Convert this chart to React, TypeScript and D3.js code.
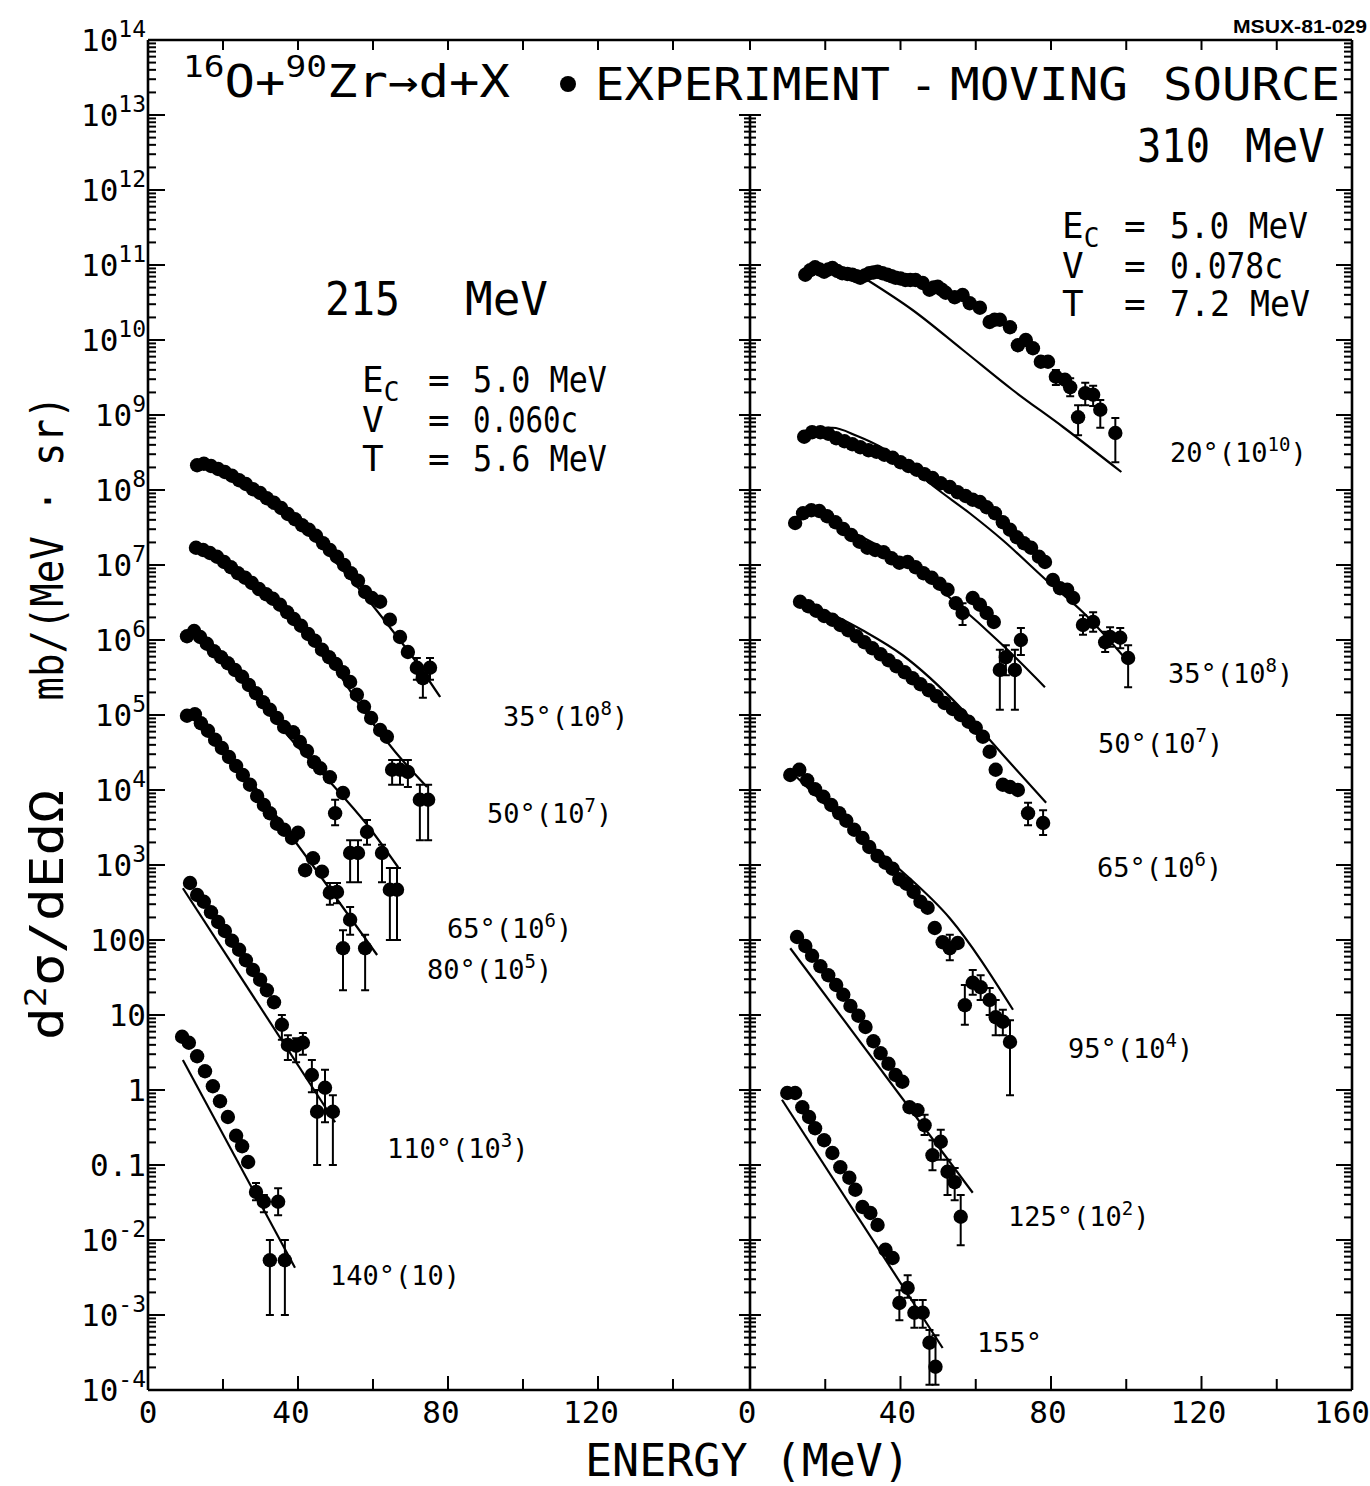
import React from "react";
import * as d3 from "d3";

type P = [number, number];
type EP = [number, number, number, number]; // [E, log10 value, log10 low, log10 high]

// ===== 215 MeV (left panel), values as [E (MeV), log10(d2σ/dEdΩ × factor)] =====
const e215_35: P[] = [[13.1,8.33],[14.9,8.35],[16.8,8.32],[18.7,8.28],[20.5,8.24],[22.4,8.19],[24.3,8.13],[26.1,8.08],[28.0,8.01],[29.9,7.96],[31.7,7.89],[33.6,7.83],[35.5,7.76],[37.3,7.68],[39.2,7.61],[41.1,7.53],[42.9,7.47],[44.8,7.39],[46.7,7.29],[48.5,7.20],[50.4,7.11],[52.3,7.00],[54.1,6.89],[56.0,6.79],[57.9,6.64],[59.7,6.56],[61.9,6.51],[64.5,6.27],[67.2,6.04],[69.3,5.84]];
const err215_35: EP[] = [[71.7,5.63,5.47,5.76],[73.3,5.49,5.23,5.63],[75.2,5.63,5.47,5.76]];
const th215_35: P[] = [[31.7,7.89],[40.5,7.53],[48.5,7.12],[56.5,6.67],[64.5,6.17],[71.2,5.73],[77.9,5.24]];

const e215_50: P[] = [[12.8,7.23],[14.7,7.20],[16.5,7.16],[18.4,7.11],[20.3,7.04],[22.1,6.97],[24.0,6.89],[25.9,6.83],[27.7,6.76],[29.6,6.68],[31.5,6.61],[33.3,6.55],[35.2,6.47],[37.1,6.37],[38.9,6.28],[40.8,6.19],[42.7,6.08],[44.5,5.99],[46.4,5.87],[48.3,5.77],[50.1,5.68],[52.0,5.57],[53.9,5.44],[55.7,5.27],[57.6,5.11],[59.5,4.96],[61.9,4.80],[63.7,4.71]];
const err215_50: EP[] = [[65.1,4.27,4.07,4.40],[67.2,4.27,4.07,4.40],[69.3,4.24,4.04,4.40],[72.5,3.87,3.33,4.07],[74.7,3.87,3.33,4.07]];
const th215_50: P[] = [[40.5,6.24],[48.5,5.73],[57.3,5.07],[65.9,4.51],[74.4,4.04]];

const e215_65: P[] = [[10.4,6.05],[12.3,6.12],[13.9,6.04],[15.7,5.95],[17.6,5.85],[19.5,5.77],[21.3,5.69],[23.2,5.60],[25.1,5.51],[26.9,5.40],[28.8,5.29],[30.7,5.17],[32.5,5.07],[34.4,4.96],[36.3,4.84],[38.7,4.77],[40.5,4.64],[42.4,4.52],[44.3,4.37],[45.9,4.29],[48.5,4.17],[52.0,3.96]];
const err215_65: EP[] = [[49.9,3.69,3.53,3.87],[58.4,3.44,3.27,3.60],[53.9,3.16,2.77,3.33],[56.0,3.16,2.77,3.33],[62.4,3.16,2.77,3.27],[64.5,2.67,2.00,2.96],[66.4,2.67,2.00,2.96]];
const th215_65: P[] = [[28.8,5.24],[37.9,4.69],[48.5,4.11],[57.9,3.57],[66.7,2.97]];

const e215_80: P[] = [[10.4,4.99],[12.5,5.01],[14.1,4.89],[16.0,4.79],[17.9,4.67],[19.7,4.56],[21.6,4.44],[23.5,4.32],[25.3,4.20],[27.2,4.07],[29.1,3.92],[30.9,3.80],[32.5,3.69],[34.4,3.55],[36.3,3.47],[38.4,3.36],[40.0,3.43],[41.9,2.93],[44.0,3.09],[46.4,2.91]];
const err215_80: EP[] = [[48.5,2.63,2.47,2.76],[50.4,2.64,2.49,2.76],[53.9,2.27,2.07,2.44],[52.0,1.89,1.33,2.13],[57.9,1.89,1.33,2.07]];
const th215_80: P[] = [[27.2,4.13],[44.0,2.99],[61.1,1.80]];

const e215_110: P[] = [[11.2,2.76],[13.1,2.60],[14.9,2.51],[16.8,2.37],[18.7,2.24],[20.5,2.12],[22.4,1.99],[24.3,1.87],[26.1,1.73],[28.0,1.60],[29.9,1.47],[31.7,1.33],[33.6,1.17]];
const err215_110: EP[] = [[35.7,0.87,0.67,1.00],[37.3,0.60,0.40,0.73],[39.5,0.59,0.37,0.69],[41.3,0.63,0.47,0.76],[43.7,0.20,-0.03,0.40],[47.2,0.03,-0.43,0.27],[45.1,-0.29,-1.00,0.00],[49.3,-0.29,-1.00,-0.07]];
const th215_110: P[] = [[9.3,2.69],[49.9,-0.43]];

const e215_140: P[] = [[9.1,0.71],[10.9,0.63],[13.1,0.45],[15.2,0.25],[17.3,0.05],[19.2,-0.15],[21.3,-0.36],[23.5,-0.61],[25.1,-0.75],[26.7,-0.96]];
const err215_140: EP[] = [[28.8,-1.36,-1.47,-1.24],[30.9,-1.49,-1.63,-1.40],[34.7,-1.49,-1.67,-1.31],[32.5,-2.27,-3.00,-2.00],[36.5,-2.27,-3.00,-2.00]];
const th215_140: P[] = [[9.3,0.40],[39.2,-2.37]];

// ===== 310 MeV (right panel) =====
const e310_20: P[] = [[14.7,10.87],[16.0,10.93],[17.3,10.97],[18.5,10.94],[19.7,10.91],[20.8,10.94],[21.9,10.96],[23.2,10.92],[24.5,10.89],[25.9,10.88],[27.2,10.87],[28.3,10.85],[29.3,10.83],[30.5,10.86],[31.7,10.89],[32.8,10.90],[33.9,10.91],[35.2,10.89],[36.5,10.87],[37.6,10.85],[38.7,10.83],[40.0,10.82],[41.3,10.80],[42.6,10.80],[44.0,10.80],[45.9,10.76],[47.7,10.67],[48.8,10.70],[49.9,10.71],[51.0,10.67],[52.0,10.63],[54.4,10.57],[56.5,10.60],[58.4,10.49],[61.1,10.43],[63.7,10.24],[65.0,10.27],[66.4,10.27],[69.1,10.17],[71.2,9.93],[73.3,10.00],[75.2,9.89],[77.3,9.71],[79.2,9.71],[83.7,9.47]];
const err310_20: EP[] = [[81.3,9.51,9.40,9.60],[85.1,9.37,9.25,9.49],[89.1,9.29,9.13,9.43],[91.2,9.27,9.12,9.39],[87.2,8.97,8.73,9.13],[93.1,9.07,8.83,9.20],[97.1,8.76,8.37,8.96]];
const th310_20: P[] = [[31.2,10.80],[43.2,10.40],[56.5,9.87],[69.9,9.33],[83.2,8.84],[98.7,8.24]];

const e310_35: P[] = [[14.4,8.71],[16.5,8.77],[18.7,8.77],[20.8,8.75],[22.9,8.69],[25.1,8.65],[27.2,8.61],[29.3,8.57],[31.5,8.53],[33.6,8.51],[35.7,8.47],[37.9,8.43],[40.0,8.37],[42.1,8.32],[44.3,8.27],[46.4,8.21],[48.5,8.16],[50.7,8.09],[53.1,8.04],[55.2,7.97],[57.3,7.92],[59.2,7.87],[61.1,7.84],[62.9,7.77],[65.1,7.69],[67.2,7.57],[69.1,7.47],[70.9,7.37],[72.8,7.29],[74.7,7.23],[76.8,7.11],[78.4,7.04],[80.5,6.80],[82.4,6.69],[84.3,6.67],[85.9,6.56]];
const err310_35: EP[] = [[88.5,6.20,6.07,6.33],[91.2,6.24,6.11,6.37],[94.4,5.97,5.84,6.11],[95.7,6.04,5.91,6.17],[98.4,6.03,5.89,6.16],[100.5,5.76,5.37,5.93]];
const th310_35: P[] = [[15.2,8.83],[21.9,8.83],[28.5,8.72],[35.2,8.56],[42.4,8.31],[49.3,8.03],[58.4,7.69],[67.2,7.33],[78.7,6.80],[88.5,6.37],[100.5,5.71]];

const e310_50: P[] = [[12.0,7.56],[14.1,7.69],[16.3,7.73],[18.4,7.72],[20.5,7.65],[22.7,7.57],[24.8,7.48],[26.9,7.40],[29.1,7.31],[31.2,7.23],[33.3,7.20],[35.5,7.17],[37.6,7.09],[39.7,7.03],[41.9,7.04],[44.0,6.97],[46.1,6.89],[48.3,6.83],[50.4,6.75],[52.5,6.67],[54.7,6.49],[59.2,6.56],[61.1,6.47],[62.9,6.36],[64.8,6.24]];
const err310_50: EP[] = [[56.5,6.36,6.20,6.49],[68.0,5.77,5.53,5.93],[72.0,6.00,5.80,6.16],[66.4,5.60,5.07,5.87],[70.4,5.60,5.07,5.87]];
const th310_50: P[] = [[25.9,7.47],[29.9,7.37],[40.5,7.07],[53.9,6.53],[67.2,5.93],[78.4,5.37]];

const e310_65: P[] = [[13.3,6.51],[15.5,6.45],[17.6,6.39],[19.7,6.32],[21.9,6.27],[24.0,6.20],[26.1,6.13],[28.3,6.05],[30.4,5.97],[32.5,5.89],[34.7,5.81],[36.8,5.73],[38.9,5.65],[41.1,5.57],[43.2,5.49],[45.3,5.41],[47.5,5.33],[49.6,5.25],[51.7,5.16],[53.9,5.08],[56.0,5.00],[58.1,4.91],[60.0,4.83],[61.9,4.71],[63.7,4.51],[65.3,4.27],[67.2,4.07],[69.1,4.04],[71.2,4.00]];
const err310_65: EP[] = [[73.9,3.69,3.53,3.83],[77.9,3.56,3.40,3.73]];
const th310_65: P[] = [[13.9,6.53],[29.9,6.13],[40.5,5.80],[56.5,5.07],[67.2,4.47],[78.7,3.83]];

const e310_95: P[] = [[10.7,4.20],[13.1,4.27],[15.2,4.13],[17.3,4.01],[19.5,3.91],[21.6,3.80],[23.7,3.69],[25.6,3.59],[27.7,3.47],[29.9,3.36],[31.7,3.24],[33.9,3.12],[36.0,3.03],[37.9,2.95],[39.7,2.81],[41.6,2.75],[43.5,2.64],[45.3,2.51],[47.2,2.43],[49.1,2.16],[51.2,1.97],[55.2,1.96]];
const err310_95: EP[] = [[53.1,1.89,1.73,2.07],[57.1,1.13,0.87,1.40],[59.2,1.43,1.27,1.60],[61.3,1.37,1.20,1.53],[63.7,1.20,1.00,1.36],[65.3,0.97,0.73,1.20],[67.2,0.91,0.73,1.07],[69.1,0.64,-0.07,0.93]];
const th310_95: P[] = [[11.2,4.23],[27.2,3.47],[40.5,2.91],[53.1,2.29],[69.9,1.07]];

const e310_125: P[] = [[12.5,2.04],[14.7,1.92],[16.5,1.79],[18.7,1.65],[20.8,1.53],[22.9,1.40],[24.8,1.27],[26.7,1.12],[28.8,0.99],[30.7,0.84],[32.8,0.65],[34.7,0.49],[36.8,0.35],[38.7,0.20],[40.5,0.11],[42.4,-0.23],[44.5,-0.27]];
const err310_125: EP[] = [[46.4,-0.47,-0.60,-0.33],[50.7,-0.69,-0.93,-0.53],[48.5,-0.87,-1.07,-0.67],[52.5,-1.09,-1.40,-0.93],[54.4,-1.23,-1.47,-1.04],[56.0,-1.69,-2.07,-1.40]];
const th310_125: P[] = [[10.7,1.89],[59.2,-1.37]];

const e310_155: P[] = [[9.9,-0.04],[12.0,-0.04],[13.9,-0.23],[15.7,-0.36],[17.3,-0.51],[19.7,-0.67],[21.9,-0.84],[24.0,-1.03],[26.4,-1.17],[28.0,-1.33],[29.9,-1.56],[32.0,-1.64],[33.9,-1.80],[36.0,-2.13],[37.9,-2.24]];
const err310_155: EP[] = [[41.9,-2.64,-2.77,-2.47],[39.7,-2.84,-3.07,-2.67],[43.7,-2.97,-3.17,-2.80],[45.9,-2.97,-3.17,-2.80],[47.7,-3.37,-3.93,-3.20],[49.3,-3.69,-3.93,-3.27]];
const th310_155: P[] = [[8.5,-0.13],[51.2,-3.44]];

// ===== tick labels =====
const xTickValuesLeft = [0, 40, 80, 120];
const xTickValuesRight = [0, 40, 80, 120, 160];
const yTickValues = [1e14,1e13,1e12,1e11,1e10,1e9,1e8,1e7,1e6,1e5,1e4,1e3,100,10,1,0.1,1e-2,1e-3,1e-4];
const yTickBase = ["10","10","10","10","10","10","10","10","10","10","10","10","100","10","1","0.1","10","10","10"];
const yTickExp = ["14","13","12","11","10","9","8","7","6","5","4","3","","","","","-2","-3","-4"];

// curve labels: angle, scale factor exponent
const leftAngles = ["35","50","65","80","110","140"];
const leftExps = ["8","7","6","5","3",""];
const rightAngles = ["20","35","50","65","95","125","155"];
const rightExps = ["10","8","7","6","4","2",""];
const leftFactorPlain = ["","","","","","(10)"];
const rightFactorPlain = ["","","","","","",""];

const leftLabelPos = [[503,726],[487,823],[447,938],[427,979],[387,1158],[330,1285]];
const rightLabelPos = [[1170,462],[1168,683],[1098,753],[1097,877],[1068,1058],[1008,1226],[977,1352]];

const FONT = '"DejaVu Sans Mono", "Liberation Mono", monospace';

export default function App() {
  const W = 1370, H = 1486;
  const top = 40, bottom = 1390;
  const y = d3.scaleLog().domain([1e-4, 1e14]).range([bottom, top]);
  const xL = d3.scaleLinear().domain([0, 160]).range([148, 748]);
  const xR = d3.scaleLinear().domain([0, 160]).range([750, 1352]);
  const Y = (lg: number) => y(Math.pow(10, lg));

  const leftCurves: [P[], EP[], P[]][] = [
    [e215_35, err215_35, th215_35],
    [e215_50, err215_50, th215_50],
    [e215_65, err215_65, th215_65],
    [e215_80, err215_80, th215_80],
    [e215_110, err215_110, th215_110],
    [e215_140, err215_140, th215_140],
  ];
  const rightCurves: [P[], EP[], P[]][] = [
    [e310_20, err310_20, th310_20],
    [e310_35, err310_35, th310_35],
    [e310_50, err310_50, th310_50],
    [e310_65, err310_65, th310_65],
    [e310_95, err310_95, th310_95],
    [e310_125, err310_125, th310_125],
    [e310_155, err310_155, th310_155],
  ];

  const decades = d3.range(-4, 15).map((k) => Math.pow(10, k));
  const minors: number[] = [];
  d3.range(-4, 14).forEach((k) => d3.range(2, 10).forEach((m) => minors.push(m * Math.pow(10, k))));
  const xTicks20 = d3.range(20, 160, 20);
  const midTop = y(1e13);

  const R = 7.2;

  const renderPanel = (x: d3.ScaleLinear<number, number>, curves: [P[], EP[], P[]][], key: string) => {
    const line = d3.line<P>().x((d) => x(d[0])).y((d) => Y(d[1])).curve(d3.curveMonotoneX);
    return (
      <g key={key}>
        {curves.map(([pts, errs, th], ci) => (
          <g key={ci}>
            <path d={line(th) || ""} fill="none" stroke="#000" strokeWidth={2.2} />
            {errs.map((e, i) => (
              <g key={"e" + i} stroke="#000" strokeWidth={2}>
                <line x1={x(e[0])} x2={x(e[0])} y1={Y(e[2])} y2={Y(e[3])} />
                <line x1={x(e[0]) - 4} x2={x(e[0]) + 4} y1={Y(e[2])} y2={Y(e[2])} />
                <line x1={x(e[0]) - 4} x2={x(e[0]) + 4} y1={Y(e[3])} y2={Y(e[3])} />
              </g>
            ))}
            {errs.map((e, i) => (
              <circle key={"ec" + i} cx={x(e[0])} cy={Y(e[1])} r={R} fill="#000" />
            ))}
            {pts.map((p, i) => (
              <circle key={"p" + i} cx={x(p[0])} cy={Y(p[1])} r={R} fill="#000" />
            ))}
          </g>
        ))}
      </g>
    );
  };

  const curveLabel = (angle: string, exp: string, plain: string, pos: number[], k: string) => (
    <text key={k} x={pos[0]} y={pos[1]} fontSize={27} fontFamily={FONT}>
      {angle}°
      {exp !== "" ? (
        <>
          <tspan>(10</tspan>
          <tspan dy={-11} fontSize={19}>{exp}</tspan>
          <tspan dy={11}>)</tspan>
        </>
      ) : (
        plain
      )}
    </text>
  );

  const xL0 = xL.range()[0], xM = xR.range()[0], xRr = xR.range()[1];

  return (
    <svg width={W} height={H} style={{ position: "absolute", left: 0, top: 0, background: "#fff" }} fontFamily={FONT}>
      <rect x={0} y={0} width={W} height={H} fill="#fff" />
      {/* frame */}
      <g stroke="#000" strokeWidth={2.6} fill="none">
        <line x1={xL0} x2={xRr} y1={top} y2={top} />
        <line x1={xL0} x2={xRr} y1={bottom} y2={bottom} />
        <line x1={xL0} x2={xL0} y1={top} y2={bottom} />
        <line x1={xM} x2={xM} y1={midTop} y2={bottom} />
        <line x1={xRr} x2={xRr} y1={top} y2={bottom} />
      </g>
      {/* y ticks */}
      <g stroke="#000" strokeWidth={2}>
        {decades.map((v, i) => (
          <g key={"d" + i}>
            <line x1={xL0} x2={xL0 + 17} y1={y(v)} y2={y(v)} />
            {y(v) >= midTop && <line x1={xM - 11} x2={xM + 11} y1={y(v)} y2={y(v)} />}
            <line x1={xRr - 16} x2={xRr} y1={y(v)} y2={y(v)} />
          </g>
        ))}
        {minors.map((v, i) => (
          <g key={"m" + i}>
            <line x1={xL0} x2={xL0 + 8} y1={y(v)} y2={y(v)} />
            {y(v) >= midTop && <line x1={xM - 6} x2={xM + 6} y1={y(v)} y2={y(v)} />}
            <line x1={xRr - 8} x2={xRr} y1={y(v)} y2={y(v)} />
          </g>
        ))}
        {/* x ticks */}
        {[xL, xR].map((x, pi) =>
          xTicks20.map((t) => (
            <g key={"xt" + pi + "-" + t}>
              <line x1={x(t)} x2={x(t)} y1={bottom} y2={bottom - (t % 40 === 0 ? 14 : 11)} />
              <line x1={x(t)} x2={x(t)} y1={top} y2={top + 10} />
            </g>
          ))
        )}
        <line x1={xM} x2={xM} y1={top} y2={top + 10} />
      </g>
      {/* y tick labels */}
      {yTickValues.map((v, i) => (
        <text key={"yl" + i} x={146} y={y(v) + 11} textAnchor="end" fontSize={31}>
          {yTickBase[i]}
          {yTickExp[i] !== "" && (
            <tspan dy={-14} fontSize={23}>
              {yTickExp[i]}
            </tspan>
          )}
        </text>
      ))}
      {/* x tick labels */}
      {xTickValuesLeft.map((t) => (
        <text key={"xl" + t} x={xL(t) - (t === 0 ? 0 : 7)} y={1423} textAnchor="middle" fontSize={31}>
          {t}
        </text>
      ))}
      {xTickValuesRight.map((t) => (
        <text key={"xr" + t} x={Math.min(xR(t) - 3, 1342)} y={1423} textAnchor="middle" fontSize={31}>
          {t}
        </text>
      ))}
      <text x={585} y={1476} fontSize={44} textLength={325} lengthAdjust="spacingAndGlyphs">
        ENERGY (MeV)
      </text>
      {/* y axis title */}
      <text transform="translate(63,915) rotate(-90)" textAnchor="middle" fontSize={47} textLength={250} lengthAdjust="spacingAndGlyphs">
        d<tspan dy={-17} fontSize={30}>2</tspan>
        <tspan dy={17}>σ/dEdΩ</tspan>
      </text>
      <text transform="translate(63,548) rotate(-90)" textAnchor="middle" fontSize={44} textLength={305} lengthAdjust="spacingAndGlyphs">
        mb/(MeV · sr)
      </text>
      {/* title */}
      <text x={183} y={97} fontSize={44} textLength={327} lengthAdjust="spacingAndGlyphs">
        <tspan fontSize={30} dy={-20}>16</tspan>
        <tspan dy={20}>O+</tspan>
        <tspan fontSize={30} dy={-20}>90</tspan>
        <tspan dy={20}>Zr→d+X</tspan>
      </text>
      <circle cx={568} cy={84} r={8} fill="#000" />
      <text x={595} y={100} fontSize={45} textLength={295} lengthAdjust="spacingAndGlyphs">EXPERIMENT</text>
      <text x={910} y={100} fontSize={45}>-</text>
      <text x={950} y={100} fontSize={45} textLength={178} lengthAdjust="spacingAndGlyphs">MOVING</text>
      <text x={1163} y={100} fontSize={45} textLength={177} lengthAdjust="spacingAndGlyphs">SOURCE</text>
      <text x={1233} y={33} fontSize={18} fontWeight="bold" fontFamily='"Liberation Sans", Arial, sans-serif' textLength={134} lengthAdjust="spacingAndGlyphs">
        MSUX-81-029
      </text>
      {/* beam energies */}
      <text x={325} y={315} fontSize={46} textLength={75} lengthAdjust="spacingAndGlyphs">215</text>
      <text x={465} y={315} fontSize={46} textLength={83} lengthAdjust="spacingAndGlyphs">MeV</text>
      <text x={1137} y={162} fontSize={46} textLength={73} lengthAdjust="spacingAndGlyphs">310</text>
      <text x={1245} y={162} fontSize={46} textLength={80} lengthAdjust="spacingAndGlyphs">MeV</text>
      {/* parameter blocks */}
      <g fontSize={36}>
        <text x={362} y={392}>E<tspan dy={9} fontSize={26}>C</tspan></text>
        <text x={428} y={392}>=</text>
        <text x={473} y={392} textLength={134} lengthAdjust="spacingAndGlyphs">5.0 MeV</text>
        <text x={362} y={432}>V</text>
        <text x={428} y={432}>=</text>
        <text x={473} y={432} textLength={105} lengthAdjust="spacingAndGlyphs">0.060c</text>
        <text x={362} y={471}>T</text>
        <text x={428} y={471}>=</text>
        <text x={473} y={471} textLength={134} lengthAdjust="spacingAndGlyphs">5.6 MeV</text>

        <text x={1062} y={238}>E<tspan dy={9} fontSize={26}>C</tspan></text>
        <text x={1124} y={238}>=</text>
        <text x={1170} y={238} textLength={138} lengthAdjust="spacingAndGlyphs">5.0 MeV</text>
        <text x={1062} y={278}>V</text>
        <text x={1124} y={278}>=</text>
        <text x={1170} y={278} textLength={113} lengthAdjust="spacingAndGlyphs">0.078c</text>
        <text x={1062} y={316}>T</text>
        <text x={1124} y={316}>=</text>
        <text x={1170} y={316} textLength={140} lengthAdjust="spacingAndGlyphs">7.2 MeV</text>
      </g>
      {/* data */}
      {renderPanel(xL, leftCurves, "L")}
      {renderPanel(xR, rightCurves, "R")}
      {/* curve labels */}
      {leftAngles.map((a, i) => curveLabel(a, leftExps[i], leftFactorPlain[i], leftLabelPos[i], "ll" + i))}
      {rightAngles.map((a, i) => curveLabel(a, rightExps[i], rightFactorPlain[i], rightLabelPos[i], "rl" + i))}
    </svg>
  );
}
